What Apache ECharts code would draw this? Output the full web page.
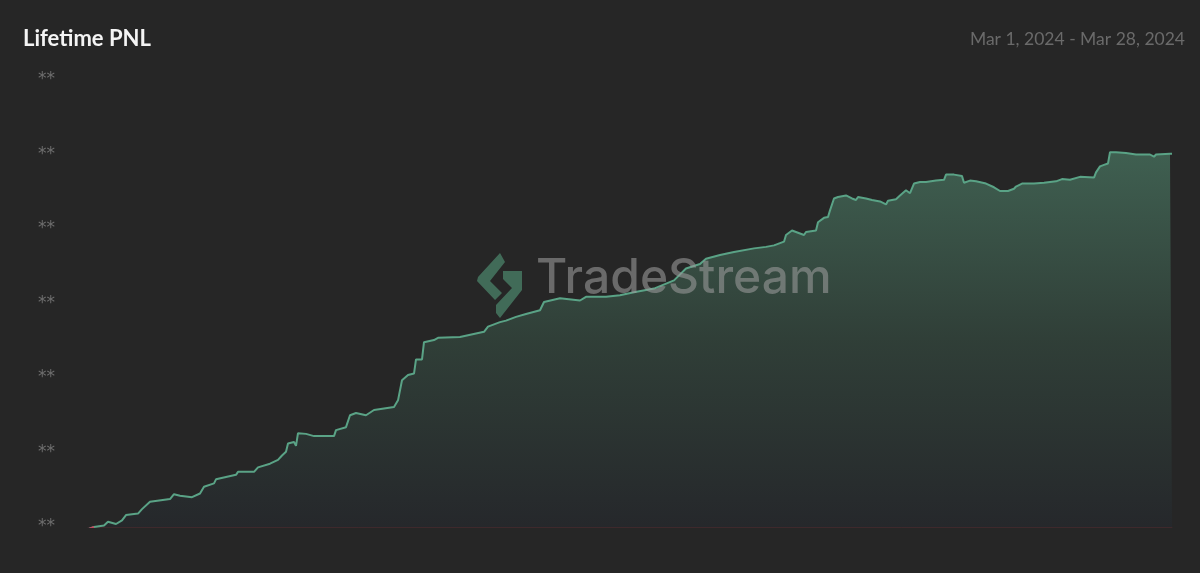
<!DOCTYPE html>
<html>
<head>
<meta charset="utf-8">
<script src="https://cdn.jsdelivr.net/npm/echarts@6/dist/echarts.min.js"></script>
<style>
html,body{margin:0;padding:0;background:#262626;}
#chart{width:1200px;height:573px;}
</style>
</head>
<body>
<div id="chart"></div>
<script>
// trade sequence index (chronological, Mar 1 – Mar 28, 2024)
const tradeIndex = [0,3,8,10,14,17,19,25,27,31,41,43,46,52,56,58,63,64,69,74,75,83,85,91,95,97,99,100,103,104,105,109,113,123,124,129,131,134,139,143,153,155,157,160,163,164,167,168,173,175,186,198,200,206,209,214,219,226,228,236,246,249,259,266,273,283,293,299,306,309,316,323,333,339,343,348,349,352,358,359,364,365,368,370,371,373,375,379,382,384,385,389,392,396,399,400,404,406,409,410,411,413,416,419,424,428,429,433,437,438,439,441,444,445,449,453,456,460,463,464,467,473,478,479,484,487,491,496,503,504,506,508,510,511,514,519,524,531,533,534,541,542];
// cumulative PNL (masked units)
const pnl = [-0.03,0.0,0.02,0.07,0.04,0.09,0.16,0.18,0.24,0.34,0.375,0.44,0.42,0.40,0.45,0.54,0.585,0.64,0.67,0.70,0.74,0.74,0.80,0.85,0.90,0.96,1.01,1.12,1.14,1.09,1.26,1.25,1.22,1.22,1.30,1.34,1.50,1.53,1.50,1.57,1.61,1.70,1.97,2.04,2.06,2.25,2.25,2.48,2.51,2.54,2.55,2.62,2.69,2.75,2.77,2.82,2.86,2.91,3.02,3.07,3.04,3.09,3.09,3.11,3.15,3.20,3.31,3.47,3.53,3.60,3.65,3.69,3.74,3.76,3.78,3.83,3.92,3.98,3.92,3.96,3.98,4.09,4.15,4.16,4.25,4.41,4.43,4.45,4.41,4.39,4.43,4.41,4.39,4.37,4.33,4.38,4.40,4.45,4.52,4.54,4.48,4.61,4.63,4.63,4.65,4.66,4.73,4.73,4.71,4.62,4.63,4.65,4.64,4.62,4.61,4.56,4.51,4.51,4.54,4.57,4.61,4.61,4.62,4.63,4.64,4.67,4.66,4.70,4.69,4.76,4.84,4.86,4.88,5.03,5.03,5.02,5.00,5.00,4.97,5.00,5.01,5.01];
const yTicks = [0,1,2,3,4,5,6];
const yTickLabel = '**';
const titleText = 'Lifetime PNL';
const rangeText = 'Mar 1, 2024 - Mar 28, 2024';
const watermarkText = 'TradeStream';

const points = tradeIndex.map((t, i) => [t, pnl[i]]);
// initial segment below zero, drawn in red
const negCount = pnl.findIndex(v => v >= 0) + 1;
const negPoints = points.slice(0, negCount);

const chart = echarts.init(document.getElementById('chart'), null, {renderer: 'canvas'});
chart.setOption({
  backgroundColor: '#262626',
  animation: false,
  title: [
    {text: titleText, left: 18, top: 23, textStyle: {color: '#f4f4f4', fontSize: 22, fontWeight: 'bold', fontFamily: 'Lato'}},
    {text: rangeText, right: 10, top: 25, textStyle: {color: '#6a6a6a', fontSize: 17.5, fontWeight: 'normal', fontFamily: 'Lato'}}
  ],
  grid: {left: 88, right: 28, top: 80, bottom: 46},
  xAxis: {
    type: 'value', min: 0, max: tradeIndex[tradeIndex.length - 1],
    axisLine: {show: true, onZero: true, lineStyle: {color: 'rgba(150,55,70,0.22)', width: 1}},
    axisTick: {show: false}, axisLabel: {show: false}, splitLine: {show: false}
  },
  yAxis: {
    type: 'value', min: yTicks[0], max: yTicks[yTicks.length - 1], interval: 1,
    axisLine: {show: false}, axisTick: {show: false}, splitLine: {show: false},
    axisLabel: {formatter: () => yTickLabel, color: '#6e6e6e', fontSize: 17, margin: 33, fontFamily: 'DejaVu Sans'}
  },
  graphic: [
    {type: 'polygon', z: 100, silent: true, shape: {points: [[500,253],[505,262],[490,281],[502,293],[495,300],[477,281],[478,277]]}, style: {fill: 'rgba(70,120,98,0.85)'}},
    {type: 'polygon', z: 100, silent: true, shape: {points: [[503,271],[522,271],[522,290],[500,318],[496,313],[496,305],[512,288],[503,279]]}, style: {fill: 'rgba(70,120,98,0.85)'}},
    {type: 'text', z: 100, silent: true, left: 536, top: 255, style: {text: watermarkText, fill: 'rgba(155,155,155,0.58)', font: '500 48px Inter'}}
  ],
  series: [{
    type: 'line',
    data: points,
    showSymbol: false,
    color: '#5aa386',
    lineStyle: {width: 2, color: '#5aa386'},
    areaStyle: {
      color: new echarts.graphic.LinearGradient(0, 0, 0, 1, [
        {offset: 0, color: '#4a7863'},
        {offset: 0.5, color: '#34493f'},
        {offset: 1, color: '#25282d'}
      ])
    }
  }, {
    type: 'line',
    data: negPoints,
    showSymbol: false,
    lineStyle: {width: 2, color: '#c2485e'}
  }]
});
</script>
</body>
</html>
